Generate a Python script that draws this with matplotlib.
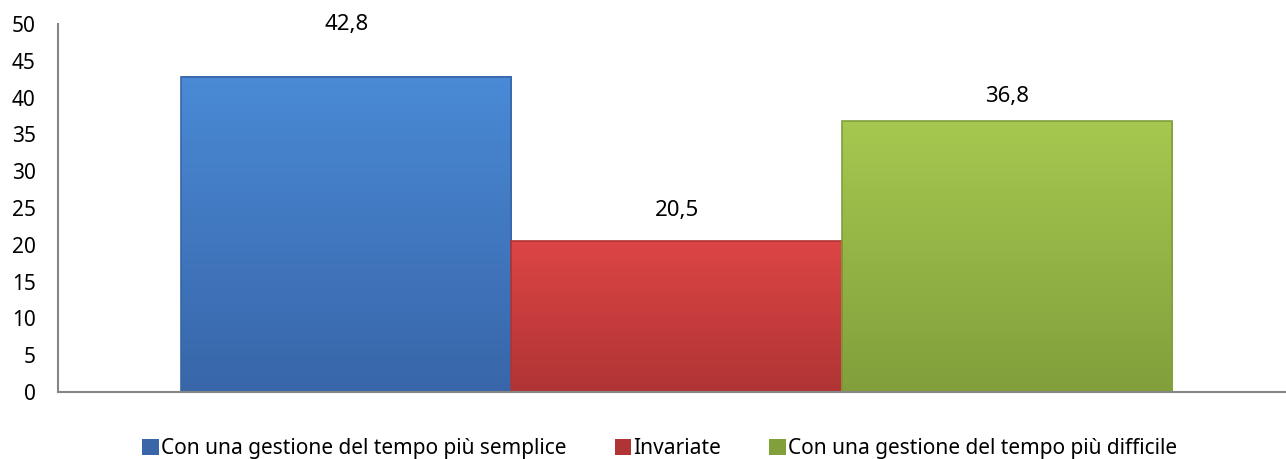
import matplotlib.pyplot as plt
import numpy as np
from matplotlib.colors import LinearSegmentedColormap

plt.rcParams['font.family'] = ['Noto Sans', 'DejaVu Sans']

labels = ['Con una gestione del tempo più semplice', 'Invariate',
          'Con una gestione del tempo più difficile']
values = [42.8, 20.5, 36.8]
value_text = ['42,8', '20,5', '36,8']
top_colors = ['#4a8ad6', '#dd4545', '#a6c850']
bottom_colors = ['#3866a9', '#b03434', '#819f3b']
label_offsets = [38, 22, 18]  # points above bar top

fig = plt.figure(figsize=(12.86, 4.59), dpi=100)
ax = fig.add_axes([58 / 1286, 67 / 459, 1227 / 1286, 368 / 459])

x = np.arange(len(values))
bars = ax.bar(x, values, width=1.0, color=bottom_colors, edgecolor='none',
              label=labels, zorder=2)

grad = np.linspace(0, 1, 256).reshape(-1, 1)
for bar, c1, c2 in zip(bars, top_colors, bottom_colors):
    cmap = LinearSegmentedColormap.from_list('g', [c2, c1])
    x0 = bar.get_x()
    ax.imshow(grad, cmap=cmap, aspect='auto', origin='lower',
              extent=[x0, x0 + bar.get_width(), 0, bar.get_height()],
              clip_path=bar, zorder=3)
    # thin darker outline like the bevelled Excel bars
    ax.add_patch(plt.Rectangle((x0, 0), bar.get_width(), bar.get_height(),
                               fill=False, edgecolor=c2, linewidth=1.2, zorder=4))

for bar, txt, off in zip(bars, value_text, label_offsets):
    ax.annotate(txt, (bar.get_x() + bar.get_width() / 2, bar.get_height()),
                xytext=(0, off), textcoords='offset points',
                ha='center', va='center', fontsize=16)

ax.set_xlim(-0.5 - 123 / 330, 2.5 + 113 / 330)
ax.set_ylim(0, 50)
ax.set_yticks(range(0, 51, 5))
ax.set_xticks([])
ax.tick_params(axis='y', length=0, pad=16, labelsize=15)
for s in ['top', 'right']:
    ax.spines[s].set_visible(False)
for s in ['left', 'bottom']:
    ax.spines[s].set_color('#868686')
    ax.spines[s].set_linewidth(1.5)
    ax.spines[s].set_zorder(5)

fig.legend(handles=list(bars), labels=labels, loc='center', ncol=3,
           bbox_to_anchor=(0.513, 0.022), frameon=False, fontsize=15,
           handlelength=0.8, handleheight=0.8, handletextpad=0.1,
           columnspacing=2.3)

fig.savefig('out.png', dpi=100)
